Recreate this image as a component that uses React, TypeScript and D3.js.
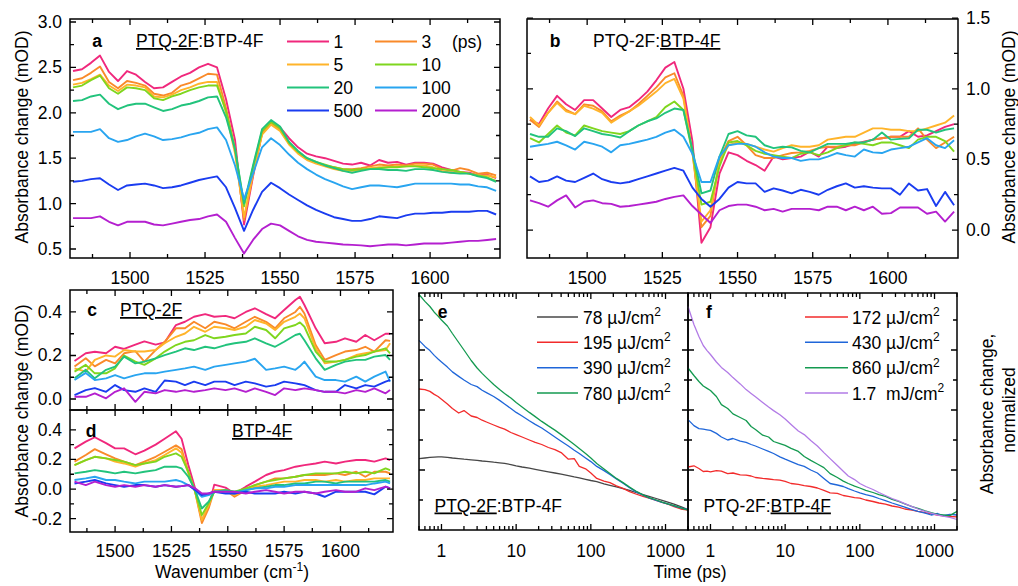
import React from 'react';
import * as d3 from 'd3';

const FONT = '"Liberation Sans", Arial, Helvetica, sans-serif';
const FS = 17.5;

// ---------------- legend (delay times, ps) ----------------
const delayLabels = ['1', '3', '5', '10', '20', '100', '500', '2000'];
const delayColors = ['#f0287c', '#f98a2a', '#ffb42a', '#7fd61e', '#22c37c', '#29a5f0', '#1a3cf0', '#b41fcf'];

// ---------------- panels a & b : wavenumber grid ----------------
const wnAB = [1481, 1484, 1487, 1490, 1493, 1496, 1499, 1502, 1505, 1508, 1511, 1514, 1517, 1520, 1523, 1526, 1529, 1532, 1535, 1538, 1541, 1544, 1547, 1550,
  1553, 1556, 1559, 1562, 1565, 1568, 1571, 1574, 1577, 1580, 1583, 1586, 1589, 1592, 1595, 1598, 1601, 1604, 1607, 1610, 1613, 1616, 1619, 1622];

// panel a: PTQ-2F:BTP-4F (PTQ-2F excited)
const a1 = [2.46, 2.48, 2.55, 2.63, 2.45, 2.35, 2.46, 2.42, 2.34, 2.27, 2.28, 2.34, 2.40, 2.44, 2.50, 2.54, 2.50, 2.15, 1.70, 0.77, 1.30, 1.78, 1.90, 1.84,
  1.72, 1.62, 1.55, 1.52, 1.50, 1.47, 1.44, 1.43, 1.45, 1.42, 1.48, 1.45, 1.46, 1.43, 1.45, 1.45, 1.44, 1.40, 1.37, 1.35, 1.34, 1.31, 1.32, 1.28];
const a3 = [2.36, 2.38, 2.44, 2.51, 2.34, 2.27, 2.35, 2.33, 2.30, 2.21, 2.19, 2.22, 2.30, 2.33, 2.38, 2.43, 2.42, 2.05, 1.60, 0.82, 1.32, 1.77, 1.88, 1.82,
  1.66, 1.56, 1.49, 1.45, 1.42, 1.40, 1.38, 1.38, 1.39, 1.41, 1.43, 1.42, 1.43, 1.42, 1.44, 1.44, 1.43, 1.38, 1.36, 1.39, 1.37, 1.33, 1.34, 1.31];
const a5 = [2.31, 2.33, 2.37, 2.42, 2.30, 2.24, 2.31, 2.30, 2.28, 2.18, 2.17, 2.20, 2.25, 2.28, 2.32, 2.34, 2.34, 2.00, 1.55, 0.85, 1.33, 1.76, 1.87, 1.80,
  1.65, 1.55, 1.48, 1.44, 1.41, 1.38, 1.36, 1.36, 1.37, 1.39, 1.40, 1.40, 1.41, 1.41, 1.42, 1.42, 1.40, 1.36, 1.34, 1.35, 1.33, 1.31, 1.31, 1.29];
const a10 = [2.28, 2.30, 2.36, 2.41, 2.27, 2.21, 2.28, 2.27, 2.25, 2.16, 2.14, 2.18, 2.21, 2.25, 2.28, 2.30, 2.30, 2.02, 1.60, 0.97, 1.40, 1.80, 1.90, 1.83,
  1.67, 1.57, 1.50, 1.46, 1.43, 1.40, 1.38, 1.37, 1.38, 1.38, 1.39, 1.40, 1.40, 1.41, 1.41, 1.40, 1.39, 1.38, 1.37, 1.35, 1.33, 1.31, 1.29, 1.25];
const a20 = [2.13, 2.14, 2.18, 2.20, 2.10, 2.04, 2.08, 2.10, 2.10, 2.06, 2.02, 2.04, 2.08, 2.10, 2.13, 2.17, 2.18, 1.95, 1.60, 1.00, 1.42, 1.82, 1.92, 1.85,
  1.68, 1.58, 1.50, 1.46, 1.42, 1.39, 1.36, 1.34, 1.36, 1.38, 1.38, 1.37, 1.37, 1.36, 1.38, 1.38, 1.37, 1.35, 1.34, 1.33, 1.33, 1.30, 1.28, 1.24];
const a100 = [1.79, 1.79, 1.79, 1.82, 1.72, 1.68, 1.70, 1.74, 1.77, 1.74, 1.70, 1.71, 1.73, 1.76, 1.78, 1.82, 1.84, 1.70, 1.42, 1.05, 1.33, 1.62, 1.72, 1.645,
  1.54, 1.45, 1.38, 1.32, 1.27, 1.23, 1.19, 1.16, 1.18, 1.20, 1.20, 1.19, 1.18, 1.20, 1.22, 1.22, 1.22, 1.22, 1.22, 1.21, 1.21, 1.19, 1.18, 1.14];
const a500 = [1.24, 1.25, 1.27, 1.28, 1.21, 1.15, 1.20, 1.21, 1.22, 1.20, 1.17, 1.18, 1.20, 1.23, 1.26, 1.28, 1.30, 1.18, 0.95, 0.70, 0.93, 1.13, 1.23, 1.17,
  1.10, 1.04, 0.98, 0.93, 0.89, 0.85, 0.83, 0.81, 0.81, 0.83, 0.86, 0.85, 0.84, 0.87, 0.89, 0.89, 0.90, 0.90, 0.91, 0.91, 0.91, 0.92, 0.92, 0.88];
const a2000 = [0.84, 0.84, 0.84, 0.86, 0.80, 0.76, 0.80, 0.80, 0.80, 0.77, 0.76, 0.78, 0.80, 0.82, 0.83, 0.86, 0.88, 0.80, 0.62, 0.45, 0.60, 0.72, 0.78, 0.76,
  0.70, 0.64, 0.60, 0.58, 0.57, 0.56, 0.55, 0.545, 0.54, 0.53, 0.54, 0.55, 0.55, 0.54, 0.55, 0.56, 0.56, 0.56, 0.57, 0.58, 0.59, 0.59, 0.60, 0.61];

// panel b: PTQ-2F:BTP-4F (BTP-4F excited)
const b1 = [0.78, 0.75, 0.86, 0.95, 0.89, 0.85, 0.92, 0.92, 0.86, 0.80, 0.85, 0.87, 0.92, 0.98, 1.06, 1.15, 1.19, 1.00, 0.63, -0.09, 0.02, 0.40, 0.55, 0.53,
  0.49, 0.46, 0.42, 0.52, 0.50, 0.51, 0.52, 0.555, 0.52, 0.59, 0.58, 0.59, 0.61, 0.625, 0.64, 0.65, 0.66, 0.66, 0.70, 0.66, 0.67, 0.70, 0.73, 0.75];
const b3 = [0.78, 0.73, 0.83, 0.91, 0.85, 0.82, 0.89, 0.88, 0.84, 0.77, 0.81, 0.84, 0.89, 0.95, 1.01, 1.08, 1.11, 0.95, 0.55, 0.02, 0.10, 0.50, 0.63, 0.66,
  0.60, 0.53, 0.51, 0.51, 0.53, 0.545, 0.55, 0.56, 0.58, 0.59, 0.59, 0.60, 0.60, 0.62, 0.64, 0.65, 0.66, 0.66, 0.66, 0.72, 0.64, 0.58, 0.62, 0.66];
const b5 = [0.80, 0.74, 0.83, 0.90, 0.84, 0.82, 0.88, 0.86, 0.83, 0.76, 0.80, 0.84, 0.88, 0.93, 0.98, 1.04, 1.07, 0.93, 0.55, 0.06, 0.14, 0.48, 0.60, 0.62,
  0.61, 0.59, 0.57, 0.555, 0.58, 0.60, 0.59, 0.59, 0.60, 0.64, 0.65, 0.66, 0.66, 0.69, 0.72, 0.72, 0.71, 0.71, 0.70, 0.70, 0.72, 0.74, 0.76, 0.81];
const b10 = [0.65, 0.62, 0.68, 0.74, 0.69, 0.67, 0.74, 0.72, 0.70, 0.69, 0.68, 0.70, 0.74, 0.77, 0.80, 0.87, 0.91, 0.85, 0.55, 0.18, 0.20, 0.45, 0.62, 0.63,
  0.60, 0.56, 0.54, 0.53, 0.52, 0.51, 0.54, 0.55, 0.53, 0.55, 0.58, 0.60, 0.62, 0.61, 0.60, 0.62, 0.62, 0.60, 0.58, 0.64, 0.66, 0.66, 0.63, 0.555];
const b20 = [0.68, 0.66, 0.66, 0.72, 0.70, 0.665, 0.72, 0.70, 0.68, 0.67, 0.655, 0.70, 0.74, 0.77, 0.79, 0.83, 0.86, 0.85, 0.57, 0.26, 0.28, 0.52, 0.68, 0.70,
  0.67, 0.66, 0.60, 0.58, 0.59, 0.585, 0.56, 0.55, 0.58, 0.61, 0.61, 0.61, 0.62, 0.62, 0.64, 0.69, 0.64, 0.645, 0.65, 0.71, 0.71, 0.69, 0.71, 0.72];
const b100 = [0.59, 0.60, 0.61, 0.625, 0.60, 0.57, 0.625, 0.61, 0.59, 0.55, 0.60, 0.61, 0.625, 0.64, 0.66, 0.69, 0.71, 0.66, 0.54, 0.34, 0.34, 0.52, 0.60, 0.61,
  0.61, 0.59, 0.55, 0.52, 0.51, 0.51, 0.49, 0.50, 0.50, 0.52, 0.545, 0.53, 0.52, 0.57, 0.55, 0.545, 0.57, 0.58, 0.59, 0.62, 0.65, 0.60, 0.58, 0.635];
const b500 = [0.38, 0.34, 0.35, 0.38, 0.35, 0.34, 0.37, 0.40, 0.36, 0.34, 0.33, 0.34, 0.36, 0.38, 0.40, 0.42, 0.44, 0.42, 0.30, 0.22, 0.165, 0.22, 0.30, 0.34,
  0.33, 0.33, 0.27, 0.295, 0.28, 0.26, 0.285, 0.27, 0.25, 0.285, 0.31, 0.33, 0.30, 0.31, 0.30, 0.295, 0.295, 0.25, 0.33, 0.28, 0.29, 0.17, 0.27, 0.175];
const b2000 = [0.21, 0.19, 0.165, 0.21, 0.245, 0.16, 0.20, 0.21, 0.19, 0.185, 0.165, 0.17, 0.18, 0.19, 0.20, 0.22, 0.235, 0.245, 0.17, 0.11, 0.05, 0.14, 0.17, 0.18,
  0.18, 0.165, 0.14, 0.15, 0.13, 0.15, 0.15, 0.15, 0.14, 0.165, 0.165, 0.14, 0.165, 0.14, 0.165, 0.115, 0.12, 0.16, 0.16, 0.16, 0.115, 0.13, 0.06, 0.13];

// ---------------- panel c : PTQ-2F ----------------
const wnC = [1482, 1487, 1491, 1496, 1500, 1504, 1509, 1513, 1518, 1522, 1527, 1531, 1535, 1540, 1544, 1549, 1553, 1558, 1562, 1567, 1571, 1575, 1580, 1582, 1584,
  1589, 1593, 1598, 1602, 1607, 1611, 1615, 1620, 1622];
const c1 = [0.175, 0.21, 0.217, 0.21, 0.24, 0.23, 0.25, 0.265, 0.25, 0.26, 0.34, 0.355, 0.378, 0.39, 0.378, 0.382, 0.371, 0.40, 0.417, 0.39, 0.371, 0.409, 0.455, 0.47, 0.432,
  0.325, 0.256, 0.263, 0.279, 0.263, 0.294, 0.27, 0.30, 0.30];
const c3 = [0.149, 0.187, 0.15, 0.18, 0.164, 0.21, 0.22, 0.172, 0.225, 0.263, 0.325, 0.325, 0.355, 0.325, 0.355, 0.343, 0.325, 0.355, 0.378, 0.355, 0.325, 0.371, 0.40, 0.424, 0.393,
  0.248, 0.18, 0.202, 0.218, 0.225, 0.24, 0.218, 0.27, 0.267];
const c5 = [0.141, 0.126, 0.18, 0.20, 0.195, 0.225, 0.218, 0.218, 0.225, 0.256, 0.286, 0.301, 0.332, 0.309, 0.332, 0.325, 0.317, 0.332, 0.363, 0.347, 0.317, 0.355, 0.378, 0.393, 0.371,
  0.233, 0.164, 0.172, 0.18, 0.202, 0.21, 0.218, 0.225, 0.256];
const c10 = [0.126, 0.157, 0.118, 0.118, 0.141, 0.20, 0.172, 0.157, 0.187, 0.218, 0.248, 0.263, 0.27, 0.294, 0.279, 0.286, 0.294, 0.301, 0.332, 0.317, 0.279, 0.325, 0.34, 0.352, 0.332,
  0.218, 0.172, 0.172, 0.18, 0.195, 0.202, 0.218, 0.233, 0.21];
const c20 = [0.095, 0.134, 0.095, 0.134, 0.149, 0.195, 0.164, 0.172, 0.187, 0.202, 0.218, 0.233, 0.225, 0.24, 0.233, 0.248, 0.256, 0.263, 0.279, 0.256, 0.24, 0.263, 0.294, 0.30, 0.27,
  0.187, 0.134, 0.157, 0.172, 0.18, 0.18, 0.195, 0.202, 0.18];
const c100 = [0.087, 0.12, 0.087, 0.095, 0.11, 0.095, 0.11, 0.118, 0.118, 0.126, 0.134, 0.141, 0.149, 0.134, 0.149, 0.157, 0.164, 0.172, 0.185, 0.134, 0.141, 0.149, 0.134, 0.15, 0.172,
  0.103, 0.087, 0.087, 0.08, 0.103, 0.08, 0.103, 0.126, 0.08];
const c500 = [0.018, 0.041, 0.05, 0.033, 0.064, 0.041, 0.033, 0.049, 0.033, 0.085, 0.08, 0.064, 0.08, 0.064, 0.08, 0.08, 0.064, 0.08, 0.072, 0.057, 0.064, 0.08, 0.072, 0.068, 0.064,
  0.041, 0.033, 0.033, 0.064, 0.049, 0.064, 0.057, 0.08, 0.087];
const c2000 = [0.01, 0.01, 0.026, 0.003, 0.033, 0.049, -0.013, 0.033, 0.026, 0.041, 0.033, 0.041, 0.033, 0.041, 0.049, 0.041, 0.049, 0.033, 0.049, 0.033, 0.018, 0.049, 0.041, 0.045, 0.049,
  0.041, 0.033, 0.033, 0.026, 0.041, 0.033, 0.049, 0.026, 0.041];

// ---------------- panel d : BTP-4F ----------------
const wnD = [1482, 1487, 1491, 1496, 1500, 1504, 1509, 1513, 1518, 1522, 1527, 1529.5, 1532.5, 1535.5, 1538.5, 1541.5, 1544, 1549, 1553, 1558, 1562, 1567, 1571, 1575, 1580,
  1584, 1589, 1593, 1598, 1602, 1607, 1611, 1615, 1620, 1622];
const d1 = [0.275, 0.32, 0.35, 0.31, 0.275, 0.275, 0.235, 0.26, 0.30, 0.34, 0.39, 0.34, 0.162, 0.005, -0.21, -0.12, 0.03, 0.01, -0.03, 0.016, 0.05, 0.095, 0.117, 0.128, 0.151,
  0.162, 0.173, 0.185, 0.173, 0.185, 0.196, 0.196, 0.185, 0.207, 0.196];
const d3v = [0.185, 0.23, 0.27, 0.235, 0.207, 0.185, 0.162, 0.185, 0.218, 0.252, 0.295, 0.27, 0.117, -0.018, -0.23, -0.131, -0.007, -0.007, -0.052, -0.007, 0.027, 0.05, 0.072, 0.072, 0.083,
  0.095, 0.095, 0.095, 0.106, 0.095, 0.117, 0.083, 0.117, 0.117, 0.106];
const d5 = [0.162, 0.196, 0.218, 0.207, 0.185, 0.173, 0.151, 0.173, 0.196, 0.23, 0.275, 0.245, 0.106, -0.018, -0.21, -0.108, -0.007, -0.007, -0.041, -0.007, 0.016, 0.027, 0.038, 0.05, 0.05,
  0.061, 0.061, 0.05, 0.061, 0.05, 0.061, 0.061, 0.072, 0.072, 0.072];
const d10 = [0.162, 0.196, 0.218, 0.207, 0.196, 0.185, 0.162, 0.173, 0.185, 0.218, 0.241, 0.218, 0.117, -0.018, -0.176, -0.097, -0.018, -0.007, -0.018, 0.005, 0.027, 0.05, 0.061, 0.072, 0.083,
  0.095, 0.106, 0.106, 0.106, 0.117, 0.106, 0.117, 0.106, 0.14, 0.128];
const d20 = [0.106, 0.117, 0.128, 0.117, 0.106, 0.117, 0.106, 0.117, 0.128, 0.151, 0.151, 0.14, 0.083, -0.007, -0.131, -0.086, -0.018, -0.007, -0.018, -0.007, 0.005, 0.016, 0.027, 0.027, 0.038,
  0.038, 0.05, 0.05, 0.038, 0.05, 0.05, 0.05, 0.05, 0.061, 0.05];
const d100 = [0.061, 0.072, 0.083, 0.061, 0.061, 0.05, 0.038, 0.05, 0.05, 0.05, 0.061, 0.05, 0.027, -0.007, -0.052, -0.041, -0.018, -0.018, -0.03, -0.007, 0.005, 0.005, 0.016, 0.016, 0.027,
  0.027, 0.027, 0.027, 0.027, 0.027, 0.027, 0.027, 0.038, 0.05, 0.038];
const d500 = [0.038, 0.05, 0.061, 0.038, 0.027, 0.016, 0.027, 0.027, 0.016, 0.027, 0.016, 0.02, 0.027, -0.007, -0.041, -0.03, -0.018, -0.03, -0.03, -0.018, -0.03, -0.03, -0.03, -0.018, -0.03,
  -0.018, -0.03, -0.052, -0.018, -0.018, -0.018, -0.018, -0.036, 0.016, 0.005];
const d2000 = [0.05, 0.027, 0.05, 0.027, 0.016, 0.027, 0.016, 0.027, 0.016, 0.027, 0.016, 0.02, 0.027, 0.005, -0.03, -0.03, -0.018, -0.018, -0.018, -0.03, -0.018, -0.007, -0.018, -0.03, -0.018,
  -0.018, -0.03, -0.018, -0.007, -0.018, -0.018, 0.005, -0.007, 0.016, 0.005];

// ---------------- panels e & f : kinetics ----------------
const timePs = [0.5, 0.6, 0.7, 0.8, 0.9, 1, 1.2, 1.4, 1.7, 2, 2.5, 3, 3.5, 4, 5, 6, 7, 8.5, 10, 12, 15, 18, 22, 27, 33, 40, 50, 60, 70, 85,
  100, 120, 150, 180, 220, 270, 330, 400, 500, 600, 750, 900, 1100, 1300, 1600, 2000];
const eLabels = ['78 µJ/cm', '195 µJ/cm', '390 µJ/cm', '780 µJ/cm'];
const eColors = ['#474747', '#f22b2b', '#1f66d9', '#149a50'];
const e78 = [0.238, 0.240, 0.242, 0.243, 0.244, 0.244, 0.242, 0.240, 0.238, 0.236, 0.234, 0.232, 0.230, 0.229, 0.226, 0.224, 0.222, 0.218, 0.214, 0.210,
  0.206, 0.202, 0.198, 0.194, 0.190, 0.186, 0.181, 0.177, 0.174, 0.169, 0.165, 0.161, 0.154, 0.149, 0.144, 0.138, 0.132, 0.125, 0.118, 0.112, 0.105, 0.099, 0.092, 0.086, 0.078, 0.068];
const e195 = [0.470, 0.468, 0.462, 0.452, 0.445, 0.436, 0.420, 0.405, 0.390, 0.398, 0.380, 0.375, 0.366, 0.360, 0.350, 0.342, 0.336, 0.325, 0.318, 0.310,
  0.300, 0.292, 0.285, 0.275, 0.268, 0.258, 0.236, 0.238, 0.212, 0.204, 0.190, 0.172, 0.163, 0.158, 0.147, 0.139, 0.128, 0.120, 0.112, 0.106, 0.099, 0.092, 0.085, 0.078, 0.070, 0.066];
const e390 = [0.632, 0.612, 0.598, 0.582, 0.570, 0.560, 0.543, 0.527, 0.512, 0.500, 0.485, 0.478, 0.466, 0.458, 0.445, 0.432, 0.420, 0.405, 0.392, 0.380,
  0.364, 0.352, 0.340, 0.325, 0.310, 0.296, 0.280, 0.266, 0.255, 0.240, 0.228, 0.212, 0.198, 0.185, 0.170, 0.156, 0.141, 0.128, 0.116, 0.107, 0.099, 0.092, 0.086, 0.080, 0.074, 0.068];
const e780 = [0.785, 0.762, 0.745, 0.726, 0.713, 0.700, 0.680, 0.655, 0.625, 0.600, 0.565, 0.540, 0.522, 0.508, 0.485, 0.468, 0.455, 0.440, 0.425, 0.410,
  0.392, 0.378, 0.362, 0.347, 0.333, 0.318, 0.300, 0.285, 0.272, 0.255, 0.240, 0.222, 0.203, 0.188, 0.172, 0.158, 0.143, 0.130, 0.117, 0.108, 0.100, 0.093, 0.086, 0.081, 0.074, 0.066];

const fLabels = ['172 µJ/cm', '430 µJ/cm', '860 µJ/cm', '1.7  mJ/cm'];
const fColors = ['#f22b2b', '#1f66d9', '#149a50', '#b27be6'];
const f172 = [0.210, 0.214, 0.205, 0.195, 0.196, 0.194, 0.198, 0.196, 0.188, 0.190, 0.184, 0.183, 0.180, 0.175, 0.172, 0.170, 0.168, 0.166, 0.162, 0.155,
  0.152, 0.148, 0.145, 0.140, 0.132, 0.124, 0.122, 0.115, 0.112, 0.108, 0.106, 0.100, 0.095, 0.090, 0.086, 0.080, 0.076, 0.070, 0.066, 0.062, 0.058, 0.054, 0.050, 0.047, 0.045, 0.044];
const f430 = [0.368, 0.348, 0.338, 0.336, 0.334, 0.332, 0.322, 0.310, 0.300, 0.305, 0.296, 0.292, 0.285, 0.280, 0.270, 0.262, 0.255, 0.244, 0.236, 0.228,
  0.218, 0.212, 0.200, 0.190, 0.172, 0.155, 0.150, 0.145, 0.138, 0.130, 0.124, 0.118, 0.112, 0.105, 0.098, 0.090, 0.083, 0.076, 0.068, 0.062, 0.056, 0.050, 0.055, 0.048, 0.052, 0.050];
const f860 = [0.540, 0.515, 0.495, 0.480, 0.472, 0.465, 0.445, 0.418, 0.405, 0.387, 0.375, 0.365, 0.345, 0.335, 0.316, 0.310, 0.295, 0.288, 0.282, 0.272,
  0.262, 0.245, 0.232, 0.220, 0.208, 0.188, 0.175, 0.163, 0.155, 0.146, 0.140, 0.132, 0.125, 0.118, 0.112, 0.102, 0.095, 0.087, 0.078, 0.072, 0.064, 0.058, 0.052, 0.050, 0.048, 0.062];
const f1700 = [0.745, 0.685, 0.645, 0.615, 0.598, 0.585, 0.560, 0.542, 0.525, 0.508, 0.487, 0.468, 0.455, 0.444, 0.425, 0.410, 0.398, 0.384, 0.370, 0.352,
  0.330, 0.318, 0.298, 0.280, 0.258, 0.238, 0.215, 0.196, 0.180, 0.168, 0.155, 0.145, 0.135, 0.125, 0.115, 0.105, 0.097, 0.088, 0.078, 0.070, 0.062, 0.056, 0.050, 0.046, 0.042, 0.035];

// tick label values
const wnTickLabels = [1500, 1525, 1550, 1575, 1600];
const timeTickLabels = [1, 10, 100, 1000];

// ---------------- helpers ----------------
function TickMarks(props: {
  xs: any; ys: any; xMajor: number[]; xMinor: number[]; yMajor: number[]; yMinor: number[]; sides: string;
}) {
  const { xs, ys, xMajor, xMinor, yMajor, yMinor, sides } = props;
  const [xl, xr] = xs.range();
  const [yb, yt] = ys.range();
  const L = 6, S = 4;
  const segs: string[] = [];
  const addX = (v: number, len: number) => {
    const p = xs(v);
    if (sides.includes('b')) segs.push(`M${p},${yb}V${yb - len}`);
    if (sides.includes('t')) segs.push(`M${p},${yt}V${yt + len}`);
  };
  const addY = (v: number, len: number) => {
    const p = ys(v);
    if (sides.includes('l')) segs.push(`M${xl},${p}H${xl + len}`);
    if (sides.includes('r')) segs.push(`M${xr},${p}H${xr - len}`);
  };
  xMajor.forEach((v) => addX(v, L));
  xMinor.forEach((v) => addX(v, S));
  yMajor.forEach((v) => addY(v, L));
  yMinor.forEach((v) => addY(v, S));
  return <path d={segs.join('')} stroke="#000" strokeWidth={1.3} fill="none" />;
}

function Frame({ xs, ys }: { xs: any; ys: any }) {
  const [xl, xr] = xs.range();
  const [yb, yt] = ys.range();
  return <rect x={xl} y={yt} width={xr - xl} height={yb - yt} fill="none" stroke="#000" strokeWidth={1.5} />;
}

function Lines({ xs, ys, xv, series, colors, width }: { xs: any; ys: any; xv: number[]; series: number[][]; colors: string[]; width: number }) {
  return (
    <g fill="none" strokeWidth={width} strokeLinejoin="round">
      {series.map((s, k) => {
        const gen = d3.line<number>().x((_, i) => xs(xv[i])).y((d) => ys(d));
        return <path key={k} d={gen(s) || ''} stroke={colors[k]} />;
      })}
    </g>
  );
}

const rng = (a: number, b: number, s: number) => d3.range(a, b + s / 1000, s);

export default function App() {
  // scales
  const xa = d3.scaleLinear().domain([1480, 1623.3]).range([70, 500]);
  const ya = d3.scaleLinear().domain([0.401, 3.033]).range([258, 19]);
  const xb = d3.scaleLinear().domain([1480, 1623.3]).range([527, 958]);
  const yb = d3.scaleLinear().domain([-0.198, 1.494]).range([258, 19]);
  const xc = d3.scaleLinear().domain([1480, 1623.3]).range([70, 393]);
  const yc = d3.scaleLinear().domain([-0.0506, 0.501]).range([410, 290]);
  const yd = d3.scaleLinear().domain([-0.29, 0.534]).range([532, 410]);
  const xe = d3.scaleLog().domain([0.5, 2000]).range([419, 688]);
  const xf = d3.scaleLog().domain([0.5, 2000]).range([688, 957]);
  const yk = d3.scaleLinear().domain([0, 0.79]).range([530, 293]);

  const wnMajor = rng(1500, 1600, 25);
  const wnMinor = rng(1487.5, 1612.5, 25);
  const logMajor = [1, 10, 100, 1000];
  const logMinor: number[] = [0.5, 0.6, 0.7, 0.8, 0.9];
  [1, 10, 100].forEach((dec) => [2, 3, 4, 5, 6, 7, 8, 9].forEach((m) => logMinor.push(m * dec)));
  logMinor.push(2000);

  const aSeries = [a1, a3, a5, a10, a20, a100, a500, a2000];
  const bSeries = [b1, b3, b5, b10, b20, b100, b500, b2000];
  const cSeries = [c1, c3, c5, c10, c20, c100, c500, c2000];
  const dSeries = [d1, d3v, d5, d10, d20, d100, d500, d2000];
  const eSeries = [e78, e195, e390, e780];
  const fSeries = [f172, f430, f860, f1700];

  const txt = { fontFamily: FONT, fontSize: FS, fill: '#000' } as const;
  const under = { textDecoration: 'underline' } as const;

  const legendRowsA = [41.5, 64.5, 87.5, 110.5];
  const legendRowsEF = [317, 342.3, 367.7, 393];

  return (
    <svg width={1018} height={586} viewBox="0 0 1018 586"
      style={{ position: 'absolute', left: 0, top: 0, background: '#fff' }}>
      <rect x={0} y={0} width={1018} height={586} fill="#fff" />

      {/* ---------- panel a ---------- */}
      <Lines xs={xa} ys={ya} xv={wnAB} series={aSeries} colors={delayColors} width={1.9} />
      <Frame xs={xa} ys={ya} />
      <TickMarks xs={xa} ys={ya} xMajor={wnMajor} xMinor={wnMinor} yMajor={rng(0.5, 3, 0.5)} yMinor={rng(0.75, 2.75, 0.5)} sides="tblr" />
      {rng(0.5, 3, 0.5).map((v) => (
        <text key={'ay' + v} x={62} y={ya(v)} textAnchor="end" dominantBaseline="central" {...txt}>{v.toFixed(1)}</text>
      ))}
      {wnTickLabels.map((v) => (
        <text key={'ax' + v} x={xa(v)} y={284} textAnchor="middle" {...txt}>{v}</text>
      ))}
      <text x={97} y={47} textAnchor="middle" {...txt} fontWeight="bold">a</text>
      <text x={136} y={47} {...txt}><tspan style={under}>PTQ-2F</tspan>:BTP-4F</text>
      {delayLabels.map((lab, k) => {
        const col = k % 2, row = Math.floor(k / 2);
        const lx = col === 0 ? 287 : 375;
        const y = legendRowsA[row];
        return (
          <g key={'la' + k}>
            <line x1={lx} x2={lx + 42} y1={y} y2={y} stroke={delayColors[k]} strokeWidth={2} />
            <text x={lx + 46.5} y={y + 6.3} {...txt}>{lab}</text>
          </g>
        );
      })}
      <text x={452} y={41.5 + 6.3} {...txt}>(ps)</text>
      <text transform="translate(22,137) rotate(-90)" textAnchor="middle" dominantBaseline="central" {...txt}>Absorbance change (mOD)</text>

      {/* ---------- panel b ---------- */}
      <Lines xs={xb} ys={yb} xv={wnAB} series={bSeries} colors={delayColors} width={1.9} />
      <Frame xs={xb} ys={yb} />
      <TickMarks xs={xb} ys={yb} xMajor={wnMajor} xMinor={wnMinor} yMajor={rng(0, 1.5, 0.5)} yMinor={rng(0.25, 1.25, 0.5)} sides="tblr" />
      {rng(0, 1.5, 0.5).map((v) => (
        <text key={'by' + v} x={966} y={yb(v)} textAnchor="start" dominantBaseline="central" {...txt}>{v.toFixed(1)}</text>
      ))}
      {wnTickLabels.map((v) => (
        <text key={'bx' + v} x={xb(v)} y={284} textAnchor="middle" {...txt}>{v}</text>
      ))}
      <text x={555} y={47} textAnchor="middle" {...txt} fontWeight="bold">b</text>
      <text x={593} y={47} {...txt}>PTQ-2F:<tspan style={under}>BTP-4F</tspan></text>
      <text transform="translate(1009,137) rotate(-90)" textAnchor="middle" dominantBaseline="central" {...txt}>Absorbance change (mOD)</text>

      {/* ---------- panel c ---------- */}
      <Lines xs={xc} ys={yc} xv={wnC} series={cSeries} colors={delayColors} width={1.9} />
      <Frame xs={xc} ys={yc} />
      <TickMarks xs={xc} ys={yc} xMajor={wnMajor} xMinor={wnMinor} yMajor={[0, 0.2, 0.4]} yMinor={[0.1, 0.3]} sides="tblr" />
      {[0, 0.2, 0.4].map((v) => (
        <text key={'cy' + v} x={62} y={yc(v)} textAnchor="end" dominantBaseline="central" {...txt}>{v.toFixed(1)}</text>
      ))}
      <text x={92} y={316} textAnchor="middle" {...txt} fontWeight="bold">c</text>
      <text x={120} y={316} {...txt}><tspan style={under}>PTQ-2F</tspan></text>

      {/* ---------- panel d ---------- */}
      <Lines xs={xc} ys={yd} xv={wnD} series={dSeries} colors={delayColors} width={1.9} />
      <Frame xs={xc} ys={yd} />
      <TickMarks xs={xc} ys={yd} xMajor={wnMajor} xMinor={wnMinor} yMajor={[-0.2, 0, 0.2, 0.4]} yMinor={[-0.1, 0.1, 0.3]} sides="tblr" />
      {[-0.2, 0, 0.2, 0.4].map((v) => (
        <text key={'dy' + v} x={62} y={yd(v)} textAnchor="end" dominantBaseline="central" {...txt}>{v.toFixed(1)}</text>
      ))}
      {wnTickLabels.map((v) => (
        <text key={'dx' + v} x={xc(v)} y={557} textAnchor="middle" {...txt}>{v}</text>
      ))}
      <text x={91} y={437} textAnchor="middle" {...txt} fontWeight="bold">d</text>
      <text x={232} y={437} {...txt}><tspan style={under}>BTP-4F</tspan></text>
      <text transform="translate(22,411) rotate(-90)" textAnchor="middle" dominantBaseline="central" {...txt}>Absorbance change (mOD)</text>
      <text x={232} y={578} textAnchor="middle" {...txt}>Wavenumber (cm<tspan fontSize={12} dy={-7}>-1</tspan><tspan dy={7}>)</tspan></text>

      {/* ---------- panel e ---------- */}
      <Lines xs={xe} ys={yk} xv={timePs} series={eSeries} colors={eColors} width={1.3} />
      <Frame xs={xe} ys={yk} />
      <TickMarks xs={xe} ys={yk} xMajor={logMajor} xMinor={logMinor} yMajor={[0.2, 0.4, 0.6]} yMinor={[0.1, 0.3, 0.5, 0.7]} sides="tblr" />
      {timeTickLabels.map((v) => (
        <text key={'ex' + v} x={xe(v)} y={557} textAnchor="middle" {...txt}>{v}</text>
      ))}
      <text x={442.5} y={318} textAnchor="middle" {...txt} fontWeight="bold">e</text>
      {eLabels.map((lab, k) => (
        <g key={'le' + k}>
          <line x1={537} x2={578} y1={legendRowsEF[k]} y2={legendRowsEF[k]} stroke={eColors[k]} strokeWidth={1.6} />
          <text x={583} y={legendRowsEF[k] + 6.5} {...txt}>{lab}<tspan fontSize={12} dy={-7.5}>2</tspan></text>
        </g>
      ))}
      <text x={434.5} y={511.5} {...txt}><tspan style={under}>PTQ-2F</tspan>:BTP-4F</text>

      {/* ---------- panel f ---------- */}
      <Lines xs={xf} ys={yk} xv={timePs} series={fSeries} colors={fColors} width={1.3} />
      <Frame xs={xf} ys={yk} />
      <TickMarks xs={xf} ys={yk} xMajor={logMajor} xMinor={logMinor} yMajor={[0.2, 0.4, 0.6]} yMinor={[0.1, 0.3, 0.5, 0.7]} sides="tblr" />
      {timeTickLabels.map((v) => (
        <text key={'fx' + v} x={xf(v)} y={557} textAnchor="middle" {...txt}>{v}</text>
      ))}
      <text x={709} y={318} textAnchor="middle" {...txt} fontWeight="bold">f</text>
      {fLabels.map((lab, k) => (
        <g key={'lf' + k}>
          <line x1={805} x2={848} y1={legendRowsEF[k]} y2={legendRowsEF[k]} stroke={fColors[k]} strokeWidth={1.6} />
          <text x={852} y={legendRowsEF[k] + 6.5} {...txt} style={{ whiteSpace: 'pre' }}>{lab}<tspan fontSize={12} dy={-7.5}>2</tspan></text>
        </g>
      ))}
      <text x={703.5} y={511.5} {...txt}>PTQ-2F:<tspan style={under}>BTP-4F</tspan></text>
      <text x={690} y={578} textAnchor="middle" {...txt}>Time (ps)</text>
      <text transform="translate(987,414) rotate(-90)" textAnchor="middle" dominantBaseline="central" {...txt}>Absorbance change,</text>
      <text transform="translate(1009,410) rotate(-90)" textAnchor="middle" dominantBaseline="central" {...txt}>normalized</text>
    </svg>
  );
}
